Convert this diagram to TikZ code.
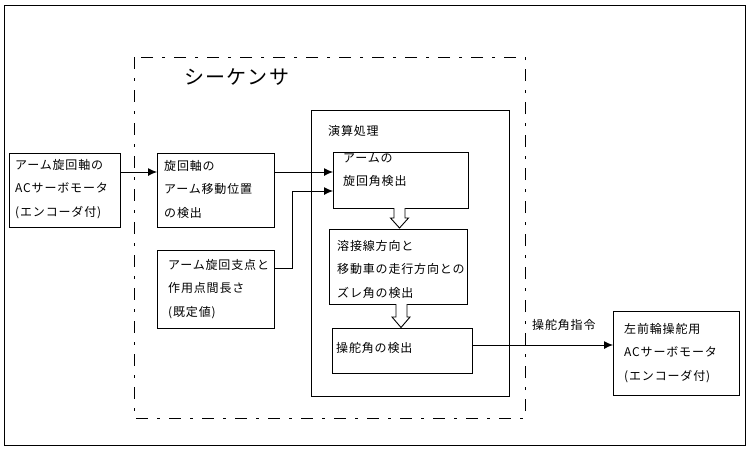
\documentclass[tikz,border=0pt]{standalone}
\usepackage{fontspec}
\setmainfont[LetterSpace=7]{Noto Sans CJK JP}
\usetikzlibrary{arrows.meta}
\tikzset{
  box/.style={draw, line width=0.9pt, inner sep=0pt, anchor=north west},
  txt/.style={inner sep=0pt, anchor=west, align=left, font={\fontsize{12}{23.5}\selectfont}},
  arr/.style={line width=0.9pt, -{Latex[length=9pt,width=8pt]}},
  conn/.style={line width=0.9pt},
  seqline/.style={line width=0.9pt, dash pattern=on 12pt off 9pt on 3pt off 9pt},
  hollow/.style={draw, line width=0.9pt, fill=white}
}
\begin{document}
\begin{tikzpicture}[x=1pt,y=-1pt]
\useasboundingbox (0,0) rectangle (749,451);
% outer frame
\draw[line width=0.9pt] (4,5) rectangle (745,445);
% sequencer dash-dot frame
\draw[seqline] (134,57) rectangle (525,418);
\node[inner sep=0pt, anchor=west, font={\fontsize{20}{24}\selectfont}] (seq) at (184,77) {シーケンサ};

% boxes
\node[box, minimum width=111pt, minimum height=74pt] (bin) at (9,153) {};
\node[box, minimum width=117pt, minimum height=74pt] (bpos) at (157,153) {};
\node[box, minimum width=117pt, minimum height=78pt] (blen) at (157,250) {};
\node[box, minimum width=198pt, minimum height=286pt] (bcalc) at (311,110) {};
\node[box, minimum width=135pt, minimum height=56pt] (barm) at (333,152) {};
\node[box, minimum width=138pt, minimum height=75pt] (bzure) at (329,229) {};
\node[box, minimum width=140pt, minimum height=45pt] (bsteer) at (332,328) {};
\node[box, minimum width=126pt, minimum height=84pt] (bout) at (613,311) {};

% texts
\node[txt] (tin) at (15,189) {アーム旋回軸の\\ACサーボモータ\\(エンコーダ付)};
\node[txt] (tpos) at (164,189) {旋回軸の\\アーム移動位置\\の検出};
\node[txt] (tlen) at (168,289) {アーム旋回支点と\\作用点間長さ\\(既定値)};
\node[txt] (tcalc) at (328,131) {演算処理};
\node[txt] (tarm) at (343,170) {アームの\\旋回角検出};
\node[txt] (tzure) at (337,269) {溶接線方向と\\移動車の走行方向との\\ズレ角の検出};
\node[txt] (tsteer) at (336,348) {操舵角の検出};
\node[txt] (tout) at (624,353) {左前輪操舵用\\ACサーボモータ\\(エンコーダ付)};
\node[txt] (tcmd) at (532,325) {操舵角指令};

% connectors
\draw[arr] (bin.east |- 0,172) -- (bpos.west |- 0,172);
\draw[arr] (bpos.east |- 0,172) -- (barm.west |- 0,172);
\coordinate (bend) at (292,268);
\draw[arr] (blen.east |- bend) -- (bend) -- (bend |- 0,191) -- (barm.west |- 0,191);
\draw[arr] (bsteer.east |- 0,345) -- (bout.west |- 0,345);

% hollow arrows
\draw[hollow] (394,208) -- (394,218) -- (390.5,218) -- (399.5,228) -- (408.5,218) -- (405,218) -- (405,208);
\draw[hollow] (396,304) -- (396,317) -- (392,317) -- (401,327.5) -- (410,317) -- (407,317) -- (407,304);
\end{tikzpicture}
\end{document}
